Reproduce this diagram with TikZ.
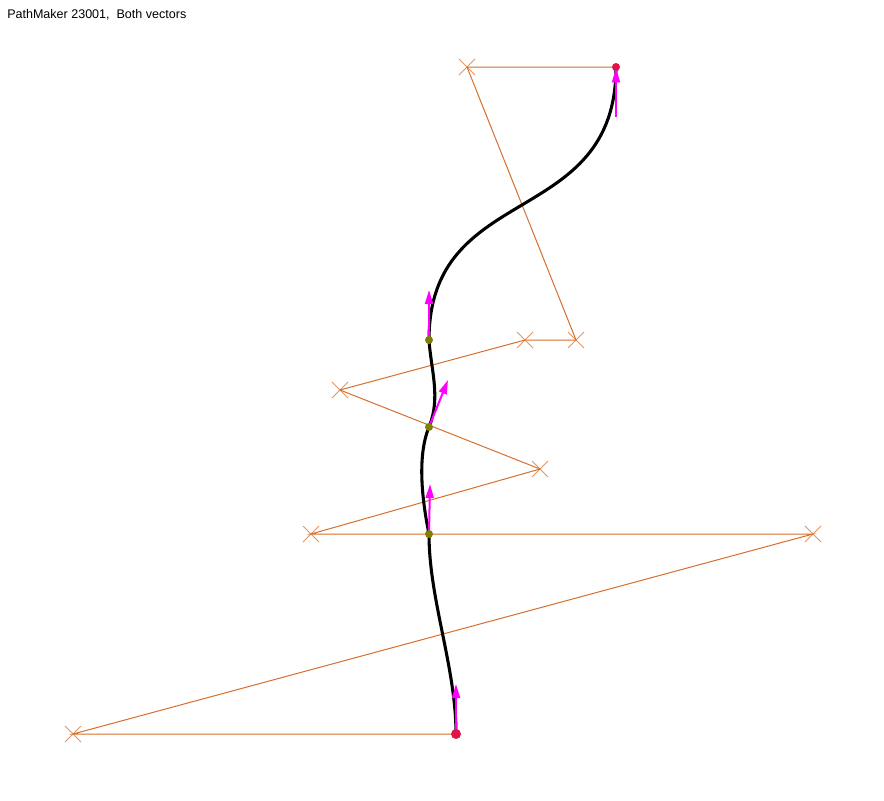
\documentclass[tikz,border=0pt]{standalone}
\usepackage{fontspec}
\setmainfont{Liberation Sans}
\usetikzlibrary{arrows.meta,shapes.misc}
\definecolor{ctrl}{RGB}{214,112,45}
\definecolor{ctrlx}{RGB}{226,150,100}
\definecolor{endred}{RGB}{222,20,70}
\definecolor{knot}{RGB}{128,128,0}
\definecolor{vec}{RGB}{255,0,255}
\tikzset{
  crossmark/.style={cross out,draw=ctrlx,line width=0.75pt,minimum size=12pt,inner sep=0pt,outer sep=0pt},
  ctrlline/.style={draw=ctrl,line width=0.75pt},
  pathline/.style={draw=black,line width=2.3pt},
  vecarrow/.style={draw=vec,line width=1.5pt,-{Triangle[length=10.5pt,width=6pt]}},
  enddot/.style={circle,fill=endred,inner sep=0pt,minimum size=#1},
  knotdot/.style={circle,fill=knot,inner sep=0pt,minimum size=6pt},
}
\begin{document}
\begin{tikzpicture}[x=0.75pt,y=-0.75pt]
\useasboundingbox (0,0) rectangle (884,800);
\fill[white] (0,0) rectangle (884,800);
\node[anchor=base west,inner sep=0pt,font=\fontsize{9.4pt}{11pt}\selectfont] (title) at (7,18) {PathMaker 23001,\ \ Both vectors};
% knots
\coordinate (p0) at (456,734);
\coordinate (p1) at (429,534);
\coordinate (p2) at (429,427);
\coordinate (p3) at (429,340);
\coordinate (p4) at (616,67);
% control crosses
\node[crossmark] (k1) at (73,734) {};
\node[crossmark] (k2) at (813,534) {};
\node[crossmark] (k3) at (311,534) {};
\node[crossmark] (k4) at (540,469) {};
\node[crossmark] (k5) at (340,390) {};
\node[crossmark] (k6) at (525,340) {};
\node[crossmark] (k7) at (576,340) {};
\node[crossmark] (k8) at (467,67) {};
% control polygon
\draw[ctrlline] (p0) -- (k1.center) -- (k2.center) -- (k3.center) -- (k4.center) -- (k5.center) -- (k6.center) -- (k7.center) -- (k8.center) -- (p4);
% path
\draw[pathline] (p0) .. controls (456,667) and (429,600) .. (p1)
  .. controls (422,500) and (417,456) .. (p2)
  .. controls (441,398) and (431,370) .. (p3)
  .. controls (429,180) and (616,230) .. (p4);
% vectors
\coordinate (v0) at (456,684);
\coordinate (v1) at (430,484);
\coordinate (v2) at (448,380);
\coordinate (v3) at (429,290);
\coordinate (v4) at (616,117);
\draw[vecarrow] (p0) -- (v0);
\draw[vecarrow] (p1) -- (v1);
\draw[vecarrow] (p2) -- (v2);
\draw[vecarrow] (p3) -- (v3);
% dots
\node[enddot=7.5pt] (d0) at (p0) {};
\node[knotdot] (d1) at (p1) {};
\node[knotdot] (d2) at (p2) {};
\node[knotdot] (d3) at (p3) {};
\node[enddot=6pt] (d4) at (p4) {};
\draw[vecarrow,shorten >=1pt] (v4) -- (d4.center);
\end{tikzpicture}
\end{document}
